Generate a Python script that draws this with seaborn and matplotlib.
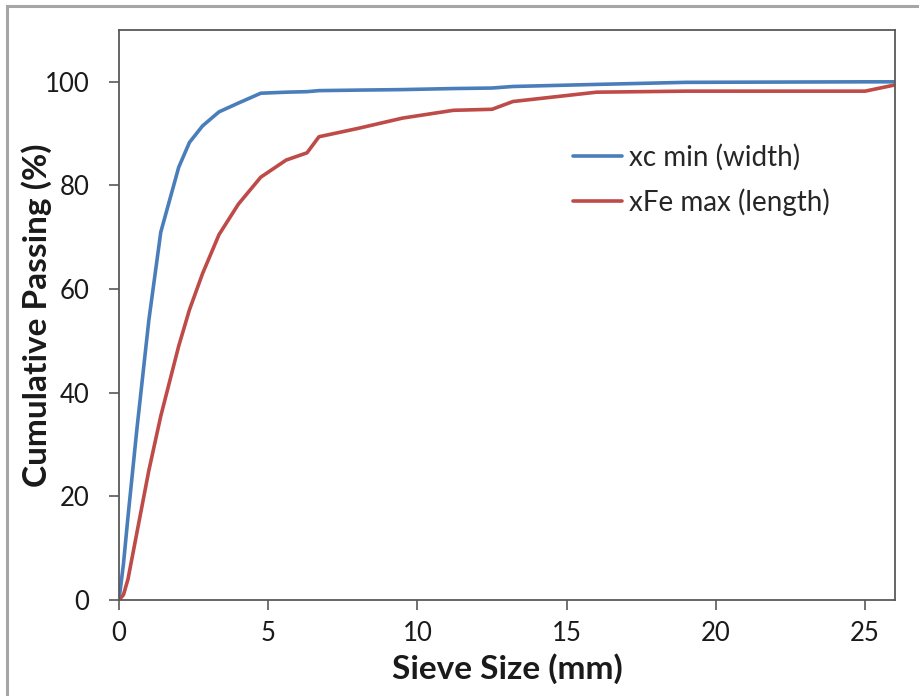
import matplotlib
matplotlib.use("Agg")
import matplotlib.pyplot as plt
from matplotlib.patches import Rectangle
import seaborn as sns
import pandas as pd

sieve_mm = [0, 0.15, 0.3, 0.6, 1.0, 1.4, 2.0, 2.36, 2.8, 3.35, 4.0, 4.75, 5.6,
            6.3, 6.7, 8.0, 9.5, 11.2, 12.5, 13.2, 16.0, 19.0, 25.0, 26.5]
xc_min_width = [0, 7, 16, 33, 54, 71, 83.5, 88.3, 91.5, 94.2, 95.9, 97.8, 98.0,
                98.1, 98.3, 98.4, 98.5, 98.7, 98.8, 99.1, 99.5, 99.9, 100, 100]
xfe_max_length = [0, 1, 4, 13, 25, 35.5, 49, 56, 63, 70.5, 76.4, 81.6, 84.9,
                  86.3, 89.4, 91.0, 93.0, 94.5, 94.7, 96.2, 98.0, 98.2, 98.2, 100]
series_names = ["xc min (width)", "xFe max (length)"]
series_colors = ["#4A7EBB", "#BE4B48"]
x_ticks = [0, 5, 10, 15, 20, 25]
y_ticks = [0, 20, 40, 60, 80, 100]

df = pd.concat([
    pd.DataFrame({"Sieve": sieve_mm, "Passing": xc_min_width, "Series": series_names[0]}),
    pd.DataFrame({"Sieve": sieve_mm, "Passing": xfe_max_length, "Series": series_names[1]}),
])

sns.set_theme(style="white")
plt.rcParams["font.family"] = ["Lato", "DejaVu Sans"]

fig = plt.figure(figsize=(9.19, 6.96), dpi=100)
fig.patches.append(Rectangle((7 / 919, -0.1), 1.2, 1.1 - 6 / 696, transform=fig.transFigure,
                             fill=False, edgecolor="#A6A6A6", linewidth=2.2, zorder=0))
ax = fig.add_axes([119 / 919, 1 - 600 / 696, (895 - 119) / 919, (600 - 30) / 696])

sns.lineplot(data=df, x="Sieve", y="Passing", hue="Series", palette=series_colors,
             hue_order=series_names, linewidth=2.6, ax=ax, estimator=None, sort=False)

ax.set_xlim(0, 26)
ax.set_ylim(0, 110)
ax.set_xticks(x_ticks)
ax.set_yticks(y_ticks)
ax.tick_params(axis="both", which="both", direction="out", length=7.2, width=1.2,
               color="#595959", labelsize=18.5, labelcolor="#1a1a1a",
               left=True, bottom=True)
ax.tick_params(axis="x", pad=8)
ax.tick_params(axis="y", pad=14)
for s in ax.spines.values():
    s.set_color("#595959")
    s.set_linewidth(1.3)
    s.set_visible(True)

ax.set_xlabel("Sieve Size (mm)", fontsize=24, fontweight="bold", color="#1a1a1a")
ax.set_ylabel("Cumulative Passing (%)", fontsize=24, fontweight="bold", color="#1a1a1a")
ax.xaxis.set_label_coords(0.5, -0.093)
ax.yaxis.set_label_coords(-0.086, 0.5)

leg = ax.legend(loc="upper left", bbox_to_anchor=(0.585, 0.80), frameon=False, fontsize=20,
                handlelength=1.76, handletextpad=0.25, labelspacing=0.62,
                borderaxespad=0, borderpad=0)
for line in leg.get_lines():
    line.set_linewidth(2.6)

fig.savefig("out.png", dpi=100)
